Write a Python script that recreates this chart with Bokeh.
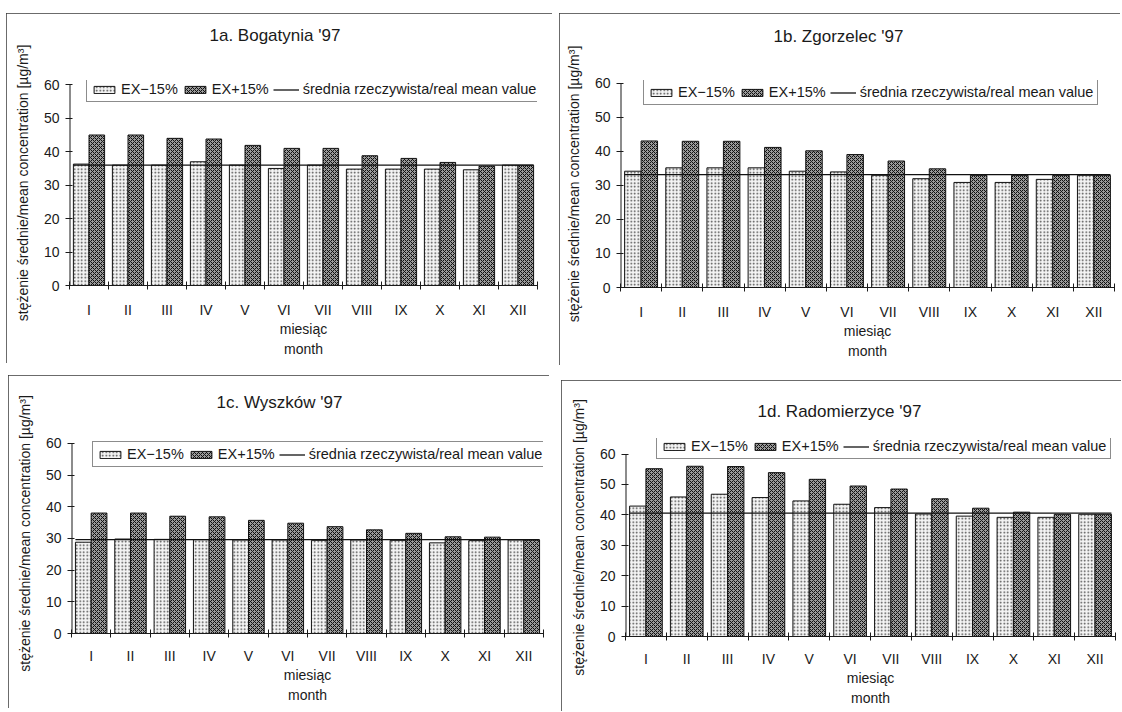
from bokeh.plotting import figure
from bokeh.models import (Range1d, FixedTicker, Legend, LegendItem, ColumnDataSource)
from bokeh.layouts import row, column
from bokeh.embed import file_html
from bokeh.resources import INLINE

# ---------------- data ----------------
months = ["I", "II", "III", "IV", "V", "VI", "VII", "VIII", "IX", "X", "XI", "XII"]
y_ticks = [0, 10, 20, 30, 40, 50, 60]

titles = ["1a. Bogatynia '97", "1b. Zgorzelec '97", "1c. Wyszków '97", "1d. Radomierzyce '97"]
series_labels = ["EX\u221215%", "EX+15%", "średnia rzeczywista/real mean value"]
y_label = "stężenie średnie/mean concentration [µg/m³]"
x_label = "miesiąc\nmonth"

bogatynia_minus = [36.3, 36.0, 36.0, 37.0, 36.0, 35.0, 36.0, 34.8, 34.8, 34.8, 34.6, 36.0]
bogatynia_plus = [45.0, 45.0, 44.0, 43.8, 41.9, 41.0, 41.0, 38.8, 38.0, 36.8, 35.7, 36.0]
bogatynia_mean = 36.0

zgorzelec_minus = [34.2, 35.2, 35.2, 35.2, 34.2, 34.0, 33.0, 32.0, 30.9, 30.9, 31.8, 33.0]
zgorzelec_plus = [43.1, 43.0, 43.0, 41.2, 40.2, 39.1, 37.2, 34.9, 33.0, 33.0, 33.0, 33.0]
zgorzelec_mean = 33.2

wyszkow_minus = [28.8, 29.8, 29.7, 29.6, 29.5, 29.5, 29.4, 29.5, 29.4, 28.6, 29.3, 29.5]
wyszkow_plus = [38.0, 38.0, 37.0, 36.8, 35.7, 34.8, 33.7, 32.7, 31.6, 30.5, 30.4, 29.5]
wyszkow_mean = 29.6

radom_minus = [42.9, 45.9, 46.8, 45.7, 44.6, 43.5, 42.4, 40.3, 39.6, 39.2, 39.2, 40.2]
radom_plus = [55.2, 56.0, 55.9, 53.9, 51.7, 49.5, 48.5, 45.3, 42.2, 40.9, 40.2, 40.2]
radom_mean = 40.6

FONT = "Liberation Sans"
INK = "#1a1a1a"


def make_panel(title, minus, plus, mean, g):
    n = len(months)
    p = figure(width=g["w"], height=g["h"], output_backend="svg", toolbar_location=None,
               x_range=Range1d(0, n), y_range=Range1d(y_ticks[0], g["ytop"]),
               min_border_left=g["bl"], min_border_right=g["br"],
               min_border_top=g["bt"], min_border_bottom=g["bb"])
    p.outline_line_color = None
    p.grid.visible = False
    p.background_fill_color = "white"
    p.border_fill_color = "white"
    p.styles = {"outline": "1px solid #3a3a3a", "outline-offset": "-1px"}

    # title: an empty second line lifts the title line away from the frame
    p.title.text = title + "\n "
    p.title.align = "left"
    p.title.offset = g["toff"]
    p.title.standoff = 0
    p.title.text_font = FONT
    p.title.text_font_size = "17px"
    p.title.text_font_style = "normal"
    p.title.text_color = INK
    p.title.text_line_height = g["tlh"]

    centers = [i + 0.5 for i in range(n)]
    bar_w = 0.4
    src = ColumnDataSource(dict(
        month=months,
        xm=[c - bar_w / 2 for c in centers],
        xp=[c + bar_w / 2 for c in centers],
        minus=minus, plus=plus))

    r1 = p.vbar(x="xm", top="minus", bottom=0, width=bar_w, source=src,
                fill_color="#f4f4f4", line_color="#111", line_width=1,
                hatch_pattern="dot", hatch_color="#444", hatch_scale=3.5, hatch_weight=1)
    r2 = p.vbar(x="xp", top="plus", bottom=0, width=bar_w, source=src,
                fill_color="#9a9a9a", line_color="#111", line_width=1,
                hatch_pattern="diagonal_cross", hatch_color="#111", hatch_scale=4, hatch_weight=1)
    lo = centers[0] - bar_w
    hi = centers[-1] + bar_w
    r3 = p.line(x=[lo, hi], y=[mean, mean], line_color="#111", line_width=1.3)

    # y axis line only from first to last tick
    p.segment(x0=[0], y0=[y_ticks[0]], x1=[0], y1=[y_ticks[-1]],
              line_color=INK, line_width=2)

    # axes
    xa = p.xaxis[0]
    xa.ticker = FixedTicker(ticks=centers, minor_ticks=list(range(n + 1)))
    xa.major_label_overrides = {c: m for c, m in zip(centers, months)}
    xa.major_tick_in = 0
    xa.major_tick_out = 0
    xa.minor_tick_in = 4
    xa.minor_tick_out = 4
    xa.minor_tick_line_color = INK
    xa.axis_line_color = INK
    xa.major_label_standoff = g["xls"]
    xa.major_label_text_font = FONT
    xa.major_label_text_font_size = "14px"
    xa.major_label_text_color = INK
    xa.axis_label = x_label
    xa.axis_label_text_font = FONT
    xa.axis_label_text_font_size = "14px"
    xa.axis_label_text_font_style = "normal"
    xa.axis_label_text_color = INK
    xa.axis_label_standoff = 0
    xa.axis_label_text_line_height = 1.25

    ya = p.yaxis[0]
    ya.ticker = FixedTicker(ticks=y_ticks)
    ya.major_tick_in = 3
    ya.major_tick_out = 4
    ya.major_tick_line_color = INK
    ya.minor_tick_line_color = None
    ya.axis_line_color = None
    ya.major_label_standoff = 6
    ya.major_label_text_font = FONT
    ya.major_label_text_font_size = "14px"
    ya.major_label_text_color = INK
    ya.axis_label = y_label
    ya.axis_label_text_font = FONT
    ya.axis_label_text_font_size = "14px"
    ya.axis_label_text_font_style = "normal"
    ya.axis_label_text_color = INK
    ya.axis_label_standoff = 10

    legend = Legend(items=[LegendItem(label=series_labels[0], renderers=[r1]),
                           LegendItem(label=series_labels[1], renderers=[r2]),
                           LegendItem(label=series_labels[2], renderers=[r3])],
                    location=g["leg"], orientation="horizontal",
                    border_line_color=INK, border_line_width=1,
                    background_fill_color="white", background_fill_alpha=1,
                    padding=4, spacing=4, margin=0, label_standoff=4,
                    glyph_width=26, glyph_height=9, label_height=15,
                    label_text_font=FONT, label_text_font_size="14.5px",
                    label_text_color=INK)
    p.add_layout(legend)
    return p


geo_a = dict(w=546, h=350, bl=63, br=15, bt=65, bb=78, ytop=61.3, xls=12,
             leg=(17, 183), toff=140, tlh=1.85)
geo_b = dict(w=561, h=352, bl=61, br=6, bt=67, bb=78, ytop=60.88, xls=12,
             leg=(23, 182), toff=153, tlh=1.79)
geo_c = dict(w=541, h=333, bl=63, br=6, bt=58, bb=73, ytop=63.1, xls=10,
             leg=(21, 166), toff=145, tlh=1.15)
geo_d = dict(w=560, h=331, bl=64, br=6, bt=53, bb=75, ytop=65.13, xls=10,
             leg=(31, 177), toff=132, tlh=0.91)

pa = make_panel(titles[0], bogatynia_minus, bogatynia_plus, bogatynia_mean, geo_a)
pb = make_panel(titles[1], zgorzelec_minus, zgorzelec_plus, zgorzelec_mean, geo_b)
pc = make_panel(titles[2], wyszkow_minus, wyszkow_plus, wyszkow_mean, geo_c)
pd = make_panel(titles[3], radom_minus, radom_plus, radom_mean, geo_d)

pa.margin = (13, 0, 0, 6)
pb.margin = (13, 0, 0, 7)
pc.margin = (10, 0, 0, 8)
pd.margin = (15, 0, 0, 12)

layout = column(row(pa, pb, spacing=0), row(pc, pd, spacing=0), spacing=0)

open("out.html", "w").write(file_html(layout, INLINE))
